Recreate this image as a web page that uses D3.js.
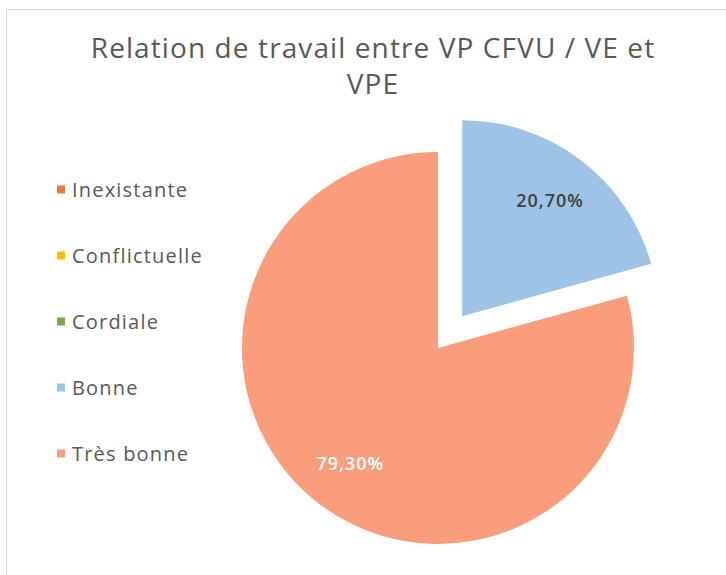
<!DOCTYPE html>
<html>
<head>
<meta charset="utf-8">
<script src="https://cdn.jsdelivr.net/npm/d3@7"></script>
<style>
  body { margin: 0; background: #fff; }
  svg { display: block; font-family: "Open Sans", "Noto Sans", sans-serif; }
</style>
</head>
<body>
<script>
const WIDTH = 726;
const HEIGHT = 575;

const categories = ["Inexistante", "Conflictuelle", "Cordiale", "Bonne", "Très bonne"];
const values = [0, 0, 0, 20.7, 79.3];
const labels = ["", "", "", "20,70%", "79,30%"];
const colors = ["#ED7D31", "#FFC000", "#70AD47", "#9DC3E6", "#F99D7C"];
const labelColors = ["#404040", "#404040", "#404040", "#404040", "#ffffff"];
const exploded = [0, 0, 0, 40, 0];

const titleLines = ["Relation de travail entre VP CFVU / VE et", "VPE"];

const CX = 438;
const CY = 348;
const RADIUS = 196;

const svg = d3.select("body")
    .append("svg")
    .attr("width", WIDTH)
    .attr("height", HEIGHT);

// chart area frame (only top and left edges are visible)
svg.append("rect")
    .attr("x", 6.5)
    .attr("y", 9.5)
    .attr("width", WIDTH + 20)
    .attr("height", HEIGHT + 20)
    .attr("fill", "#fff")
    .attr("stroke", "#d9d9d9");

svg.append("g")
    .selectAll("text")
    .data(titleLines)
    .join("text")
    .attr("x", 373)
    .attr("y", (d, i) => 58 + i * 36)
    .attr("text-anchor", "middle")
    .attr("fill", "#595959")
    .attr("font-size", 28)
    .attr("letter-spacing", 1.1)
    .text(d => d);

const pie = d3.pie().sort(null).value(d => d.value);
const arc = d3.arc().innerRadius(0).outerRadius(RADIUS);
const labelArc = d3.arc().innerRadius(RADIUS * 0.74).outerRadius(RADIUS * 0.74);

const rows = categories.map((c, i) => ({
    name: c, value: values[i], label: labels[i],
    color: colors[i], labelColor: labelColors[i], explode: exploded[i]
}));

const slices = svg.append("g")
    .attr("transform", `translate(${CX},${CY})`)
    .selectAll("g")
    .data(pie(rows).filter(d => d.data.value > 0))
    .join("g")
    .attr("transform", d => {
        const mid = (d.startAngle + d.endAngle) / 2;
        const dx = Math.sin(mid) * d.data.explode;
        const dy = -Math.cos(mid) * d.data.explode;
        return `translate(${dx},${dy})`;
    });

slices.append("path")
    .attr("d", arc)
    .attr("fill", d => d.data.color);

slices.append("text")
    .attr("transform", d => `translate(${labelArc.centroid(d)})`)
    .attr("text-anchor", "middle")
    .attr("dy", "0.35em")
    .attr("font-size", 18)
    .attr("font-weight", 600)
    .attr("letter-spacing", 1)
    .attr("fill", d => d.data.labelColor)
    .text(d => d.data.label);

// legend
const legend = svg.append("g")
    .selectAll("g")
    .data(rows)
    .join("g")
    .attr("transform", (d, i) => `translate(57,${189.5 + i * 66})`);

legend.append("rect")
    .attr("x", 0)
    .attr("y", -4)
    .attr("width", 8)
    .attr("height", 8)
    .attr("fill", d => d.color);

legend.append("text")
    .attr("x", 15)
    .attr("dy", "0.35em")
    .attr("font-size", 20)
    .attr("letter-spacing", 1.2)
    .attr("fill", "#595959")
    .text(d => d.name);
</script>
</body>
</html>
